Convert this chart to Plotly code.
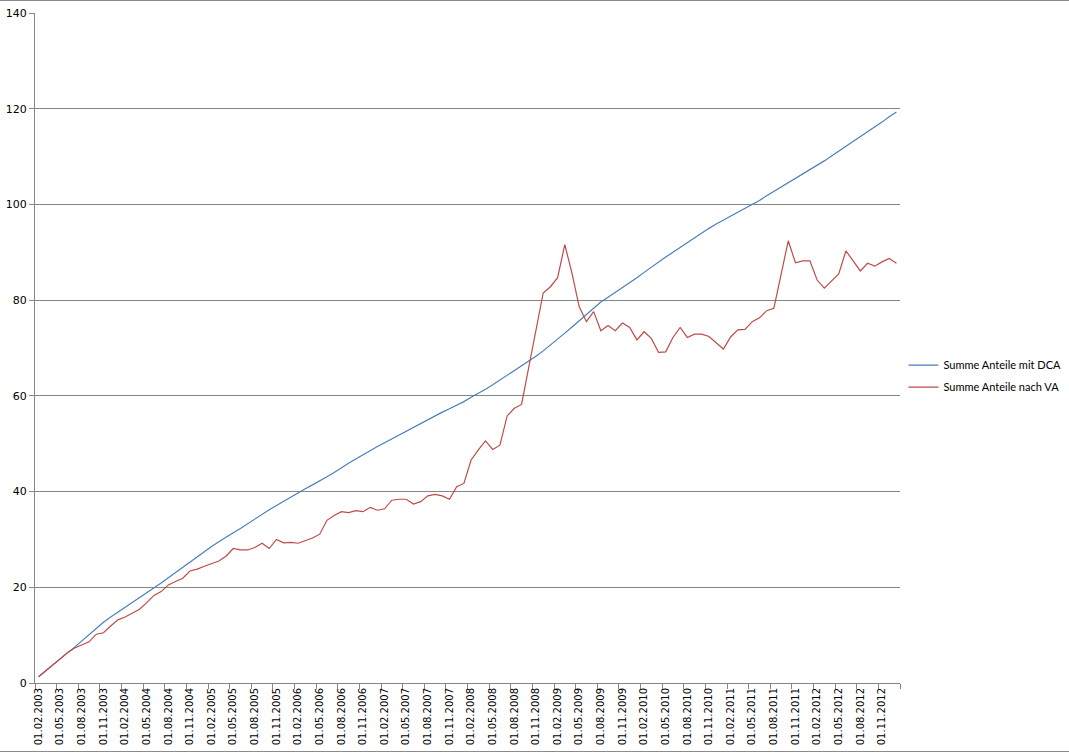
import plotly.graph_objects as go

# Monthly categories 01.02.2003 .. 01.01.2013
start_year, start_month, n_months = 2003, 2, 120
dates = []
y, m = start_year, start_month
for _ in range(n_months):
    dates.append(f"01.{m:02d}.{y}")
    m += 1
    if m > 12:
        m = 1
        y += 1

dca = [1.3, 2.6, 3.9, 5.1, 6.3, 7.5, 8.8, 10.2, 11.6, 12.7,
       13.8, 14.8, 15.8, 16.8, 17.8, 18.8, 19.8, 20.9, 22.0, 23.1,
       24.2, 25.3, 26.4, 27.5, 28.5, 29.5, 30.5, 31.4, 32.3, 33.3,
       34.3, 35.3, 36.2, 37.1, 38.0, 38.9, 39.8, 40.6, 41.4, 42.2,
       43.1, 44.0, 45.0, 45.9, 46.8, 47.7, 48.6, 49.4, 50.2, 51.0,
       51.8, 52.6, 53.4, 54.3, 55.1, 55.9, 56.6, 57.3, 58.0, 58.8,
       59.7, 60.5, 61.4, 62.3, 63.3, 64.3, 65.3, 66.2, 67.2, 68.3,
       69.4, 70.6, 71.8, 73.1, 74.4, 75.7, 77.0, 78.3, 79.6, 80.6,
       81.6, 82.6, 83.6, 84.7, 85.8, 86.9, 87.9, 89.0, 90.0, 91.0,
       92.0, 93.0, 94.1, 95.0, 95.9, 96.7, 97.5, 98.3, 99.1, 99.9,
       100.8, 101.8, 102.7, 103.6, 104.6, 105.5, 106.4, 107.3, 108.2, 109.1,
       110.1, 111.1, 112.2, 113.2, 114.2, 115.2, 116.2, 117.2, 118.3, 119.3]

va = [1.3, 2.6, 3.9, 5.2, 6.3, 7.3, 8.0, 8.6, 10.2, 10.5,
      11.9, 13.2, 13.8, 14.6, 15.4, 16.8, 18.3, 19.1, 20.5, 21.2,
      21.9, 23.4, 23.8, 24.4, 25.0, 25.5, 26.5, 28.1, 27.8, 27.8,
      28.3, 29.2, 28.1, 30.0, 29.3, 29.4, 29.2, 29.7, 30.3, 31.1,
      34.0, 35.0, 35.8, 35.6, 36.0, 35.8, 36.7, 36.1, 36.4, 38.2,
      38.4, 38.4, 37.4, 37.9, 39.1, 39.4, 39.1, 38.4, 41.0, 41.7,
      46.6, 48.7, 50.6, 48.8, 49.7, 55.8, 57.4, 58.2, 66.0, 73.7,
      81.5, 82.8, 84.7, 91.6, 85.6, 78.6, 75.5, 77.6, 73.6, 74.7,
      73.6, 75.2, 74.3, 71.7, 73.4, 72.0, 69.1, 69.2, 72.2, 74.3,
      72.2, 72.9, 72.9, 72.4, 71.0, 69.8, 72.3, 73.8, 73.9, 75.5,
      76.3, 77.8, 78.3, 85.3, 92.4, 87.8, 88.2, 88.2, 84.2, 82.5,
      84.0, 85.5, 90.3, 88.2, 86.1, 87.7, 87.1, 88.0, 88.7, 87.7]

series_names = ["Summe Anteile mit DCA", "Summe Anteile nach VA"]
y_ticks = [0, 20, 40, 60, 80, 100, 120, 140]

idx = list(range(n_months))
label_idx = idx[::3]

fig = go.Figure()
fig.add_trace(go.Scatter(x=idx, y=dca, mode="lines", name=series_names[0], legendgroup="a",
                         line=dict(color="#4A7EBB", width=1.2),
                         customdata=dates, hovertemplate="%{customdata}: %{y}<extra></extra>"))
fig.add_trace(go.Scatter(x=idx, y=va, mode="lines", name=series_names[1], legendgroup="b",
                         line=dict(color="#BE4B48", width=1.2),
                         customdata=dates, hovertemplate="%{customdata}: %{y}<extra></extra>"))

font_family = "'DejaVu Sans', sans-serif"
fig.update_layout(
    width=1069, height=753,
    margin=dict(l=35, r=169, t=13, b=70, autoexpand=False),
    paper_bgcolor="white", plot_bgcolor="white",
    font=dict(family=font_family, size=11, color="#000000"),
    showlegend=True,
    legend=dict(x=1.004, y=0.458, xanchor="left", yanchor="middle",
                font=dict(size=11, family="Lato, sans-serif"), itemwidth=30,
                bgcolor="rgba(0,0,0,0)", tracegroupgap=3),
    shapes=[
        dict(type="line", xref="paper", yref="paper",
             x0=-35/865, x1=1034/865, y0=682.5/670, y1=682.5/670,
             line=dict(color="#8c8c8c", width=1)),
        dict(type="line", xref="paper", yref="paper",
             x0=-35/865, x1=1034/865, y0=-68.5/670, y1=-68.5/670,
             line=dict(color="#8c8c8c", width=1)),
    ],
)
fig.update_xaxes(
    automargin=False,
    range=[-0.5, n_months - 0.5],
    tickmode="array", tickvals=label_idx, ticktext=[dates[i] for i in label_idx],
    tickangle=-90, ticks="", tickfont=dict(size=10, family=font_family),
    showgrid=False, zeroline=False,
    showline=True, linecolor="#868686", linewidth=1,
    minor=dict(tickmode="array", tickvals=[i - 0.5 for i in range(0, n_months + 1, 3)],
               ticks="outside", ticklen=5, tickcolor="#868686", tickwidth=1, showgrid=False),
)
fig.update_yaxes(
    automargin=False,
    range=[0, 140], tickmode="array", tickvals=y_ticks,
    ticks="outside", ticklen=5, tickcolor="#868686",
    showgrid=True, gridcolor="#868686", gridwidth=1,
    zeroline=False, showline=True, linecolor="#868686", linewidth=1,
    tickfont=dict(size=11, family=font_family),
)

fig.write_html("out.html", config={"displayModeBar": False},
               post_script="document.body.style.margin='0';document.body.style.overflow='hidden';")
